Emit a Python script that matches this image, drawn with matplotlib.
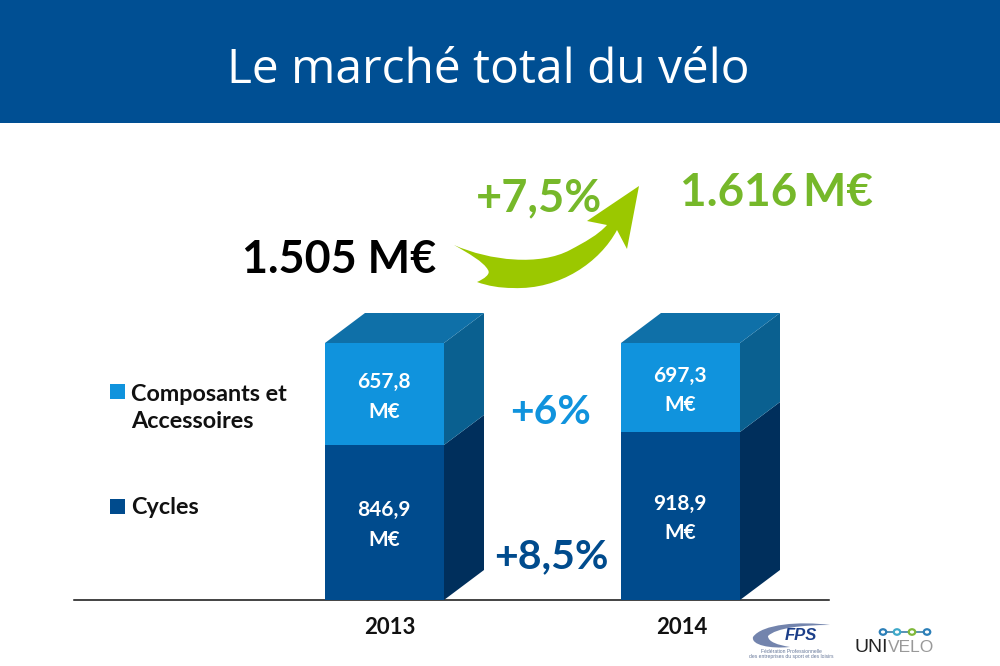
import matplotlib
matplotlib.use("Agg")
import matplotlib.pyplot as plt
from matplotlib.patches import Polygon, PathPatch, Rectangle, Ellipse
from matplotlib.path import Path

years = ["2013", "2014"]
cycles_height = [155, 168]
components_height = [102, 89]
cycles_labels = ["846,9\nM€", "918,9\nM€"]
components_labels = ["657,8\nM€", "697,3\nM€"]
bar_centers = [384.5, 680.5]
year_centers = [390, 682]
BAR_W = 119
DX, DY = 40, 30

DARK, DARK_SIDE = "#004b8d", "#002f5c"
LIGHT, LIGHT_SIDE, LIGHT_TOP = "#1093dd", "#0a6090", "#0f70a8"
GREEN_TXT, GREEN_ARROW = "#76b82a", "#9bc800"
BOLD = "Lato"

fig = plt.figure(figsize=(10, 6.66), dpi=100)
ax = fig.add_axes([0, 0, 1, 1])
ax.set_xlim(0, 1000)
ax.set_ylim(-66, 600)
ax.axis("off")


def py(p):
    return 600 - p


ax.add_patch(Rectangle((0, py(123)), 1000, 123, fc="#004f93", ec="none"))
ax.text(488, py(70), "Le marché total du vélo", color="white", fontsize=34.5,
        family="Open Sans", ha="center", va="center")

ax.plot([74, 829], [0, 0], color="#111111", lw=1.1, zorder=1)

ax.bar(bar_centers, cycles_height, BAR_W, color=DARK, zorder=3)
ax.bar(bar_centers, components_height, BAR_W, bottom=cycles_height, color=LIGHT, zorder=3)

for c, yc, h1, h2, l1, l2, yr in zip(bar_centers, year_centers, cycles_height, components_height,
                                     cycles_labels, components_labels, years):
    r = c + BAR_W / 2
    l = c - BAR_W / 2
    t = h1 + h2
    ax.add_patch(Polygon([(r, 0), (r + DX, DY), (r + DX, h1 + DY), (r, h1)], fc=DARK_SIDE, ec="none", zorder=2))
    ax.add_patch(Polygon([(r, h1), (r + DX, h1 + DY), (r + DX, t + DY), (r, t)], fc=LIGHT_SIDE, ec="none", zorder=2))
    ax.add_patch(Polygon([(l, t), (l + DX, t + DY), (r + DX, t + DY), (r, t)], fc=LIGHT_TOP, ec="none", zorder=2))
    ax.text(c - 0.5, h1 / 2 - 2.5, l1, color="white", fontsize=15, family=BOLD, weight="bold",
            ha="center", va="center", linespacing=1.6, zorder=4)
    ax.text(c - 0.5, h1 + h2 / 2 - 3, l2, color="white", fontsize=15, family=BOLD, weight="bold",
            ha="center", va="center", linespacing=1.6, zorder=4)
    ax.text(yc, py(627), yr, color="#111111", fontsize=16, family=BOLD, weight="bold",
            ha="center", va="center")

# Legend
ax.add_patch(Rectangle((110, py(399)), 15, 15, fc=LIGHT, ec="none"))
ax.add_patch(Rectangle((110, py(514)), 15, 15, fc=DARK, ec="none"))
ax.text(131, py(408), "Composants et\nAccessoires", color="#111111", fontsize=16.8, family=BOLD,
        weight="bold", ha="left", va="center", linespacing=1.33)
ax.text(131, py(507), "Cycles", color="#111111", fontsize=16.8, family=BOLD, weight="bold",
        ha="left", va="center")

# Annotations
ax.text(339, py(260), "1.505 M€", color="black", fontsize=32.3, family=BOLD, weight="bold",
        ha="center", va="center")
ax.text(776, py(193), "1.616\u2009M€", color=GREEN_TXT, fontsize=33, family=BOLD, weight="bold",
        ha="center", va="center")
ax.text(539, py(198), "+7,5%", color=GREEN_TXT, fontsize=32.5, family=BOLD, weight="bold",
        ha="center", va="center", zorder=5)
ax.text(551, py(412), "+6%", color=LIGHT, fontsize=29.3, family=BOLD, weight="bold",
        ha="center", va="center")
ax.text(551, py(557), "+8,5%", color=DARK, fontsize=29.5, family=BOLD, weight="bold",
        ha="center", va="center", zorder=5)

# Swoosh arrow
M, C, L = Path.MOVETO, Path.CURVE4, Path.LINETO
arrow = [
    ((454, 245), M),
    ((490, 261), C), ((540, 266), C), ((570, 250), C),
    ((585, 242), C), ((598, 235), C), ((607, 225), C),
    ((587, 221), L),
    ((639, 186), L),
    ((627, 249), L),
    ((617, 230), L),
    ((600, 262), C), ((560, 290), C), ((513, 288), C),
    ((500, 288), C), ((488, 286), C), ((477, 282), C),
    ((484, 279), C), ((491, 274), C), ((488, 270), C),
    ((484, 262), C), ((468, 253), C), ((454, 245), C),
]
ax.add_patch(PathPatch(Path([(x, py(y)) for (x, y), _ in arrow], [c for _, c in arrow]),
                       fc=GREEN_ARROW, ec="none", zorder=4))

# Logos
sw = [((753, 637), M), ((762, 624), C), ((800, 621), C), ((830, 625), C),
      ((802, 625), C), ((776, 628), C), ((768, 636), C),
      ((768, 642), C), ((778, 645), C), ((790, 647), C),
      ((770, 649), C), ((751, 645), C), ((753, 637), C)]
ax.add_patch(PathPatch(Path([(x, py(y)) for (x, y), _ in sw], [c for _, c in sw]),
                       fc="#7384ad", ec="none"))
ax.text(801, py(635), "FPS", color="#1c3f8a", fontsize=12, family="Liberation Sans", weight="bold",
        style="italic", ha="center", va="center")
ax.text(791, py(654), "Fédération Professionnelle\ndes entreprises du sport et des loisirs",
        color="#667799", fontsize=3.6, family="Liberation Sans", ha="center", va="center")
ax.plot([881, 929], [py(632), py(632)], color="#3b7fa8", lw=1.2)
for x, col in zip([883, 897, 912, 927], ["#2c7fb8", "#3fa9c9", "#7fb83a", "#2c7fb8"]):
    ax.add_patch(Ellipse((x, py(632)), 6.5, 5.5, fc="white", ec=col, lw=1.6, zorder=3))
ax.text(888, py(648), "UNI", color="#222222", fontsize=14, family="Liberation Sans", ha="right", va="center")
ax.text(888, py(648), "VELO", color="#999999", fontsize=12.5, family="Liberation Sans", ha="left", va="center")

fig.savefig("out.png", dpi=100)
